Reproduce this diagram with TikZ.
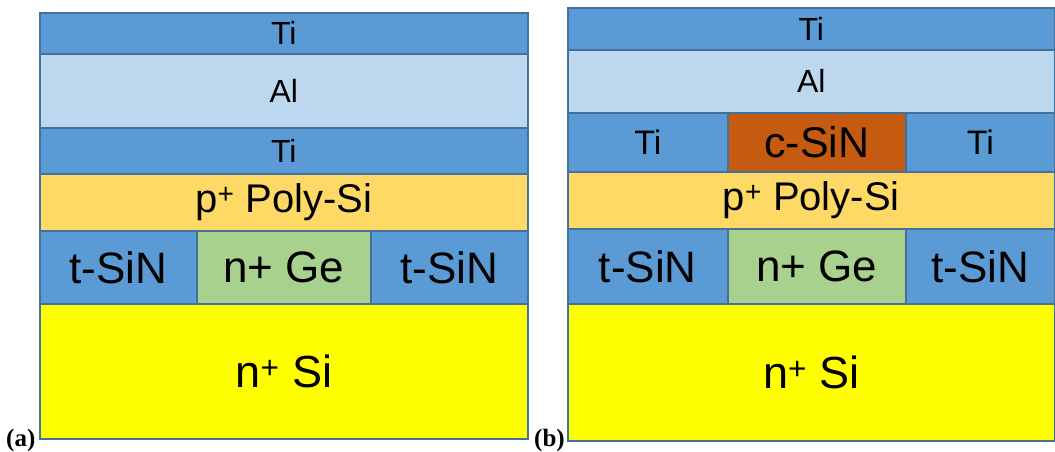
\documentclass[tikz,border=0pt]{standalone}
\usepackage{fontspec}
\setmainfont{Liberation Sans}
\newfontfamily\capfont{Liberation Serif}
\definecolor{tiblue}{HTML}{5B9BD5}
\definecolor{alblue}{HTML}{BDD7EE}
\definecolor{polyyel}{HTML}{FFD966}
\definecolor{gegreen}{HTML}{A9D18E}
\definecolor{siyel}{HTML}{FFFF00}
\definecolor{csin}{HTML}{C55A11}
\definecolor{edge}{HTML}{41719C}
\tikzset{
  layer/.style={draw=edge, line width=1.6pt, inner sep=0pt, anchor=north west, text=black},
  ti/.style={layer, fill=tiblue},
  al/.style={layer, fill=alblue},
  poly/.style={layer, fill=polyyel},
  ge/.style={layer, fill=gegreen},
  nsi/.style={layer, fill=siyel},
  cs/.style={layer, fill=csin},
  sz/.style={font=\fontsize{#1}{#1}\selectfont},
  panel/.style={font=\capfont\bfseries\fontsize{25}{25}\selectfont, inner sep=0pt, anchor=base west}
}
\begin{document}
\begin{tikzpicture}[x=1pt, y=-1pt]
\useasboundingbox (0,0) rectangle (1055,451);
% ---- stack (a) ----
\node[ti, sz=32, minimum width=488pt, minimum height=41pt] (aTiTop) at (39,12) {Ti};
\node[al, sz=32, minimum width=488pt, minimum height=74pt] (aAl) at (39,53) {Al};
\node[ti, sz=32, minimum width=488pt, minimum height=46pt] (aTiBot) at (39,127) {Ti};
\node[poly, sz=40, minimum width=488pt, minimum height=57pt] (aPoly) at (39,173) {p\textsuperscript{+} Poly-Si};
\node[ti, sz=44, minimum width=157pt, minimum height=73pt] (aSiNL) at (39,230) {t-SiN};
\node[ge, sz=44, minimum width=174pt, minimum height=73pt] (aGe) at (196,230) {n+ Ge};
\node[ti, sz=44, minimum width=157pt, minimum height=73pt] (aSiNR) at (370,230) {t-SiN};
\node[nsi, sz=45, minimum width=488pt, minimum height=135pt] (aSi) at (39,303) {n\textsuperscript{+} Si};
\node[panel] (capA) at (6,446) {(a)};
% ---- stack (b) ----
\node[ti, sz=32, minimum width=487pt, minimum height=42pt] (bTiTop) at (567,7) {Ti};
\node[al, sz=32, minimum width=487pt, minimum height=63pt] (bAl) at (567,49) {Al};
\node[ti, sz=34, minimum width=160pt, minimum height=59pt] (bTiL) at (567,112) {Ti};
\node[cs, sz=43, minimum width=178pt, minimum height=59pt] (bCSiN) at (727,112) {c-SiN};
\node[ti, sz=34, minimum width=149pt, minimum height=59pt] (bTiR) at (905,112) {Ti};
\node[poly, sz=40, minimum width=487pt, minimum height=57pt] (bPoly) at (567,171) {p\textsuperscript{+} Poly-Si};
\node[ti, sz=44, minimum width=160pt, minimum height=75pt] (bSiNL) at (567,228) {t-SiN};
\node[ge, sz=44, minimum width=178pt, minimum height=75pt] (bGe) at (727,228) {n+ Ge};
\node[ti, sz=44, minimum width=149pt, minimum height=75pt] (bSiNR) at (905,228) {t-SiN};
\node[nsi, sz=45, minimum width=487pt, minimum height=137pt] (bSi) at (567,303) {n\textsuperscript{+} Si};
\node[panel] (capB) at (534,446) {(b)};
\end{tikzpicture}
\end{document}
